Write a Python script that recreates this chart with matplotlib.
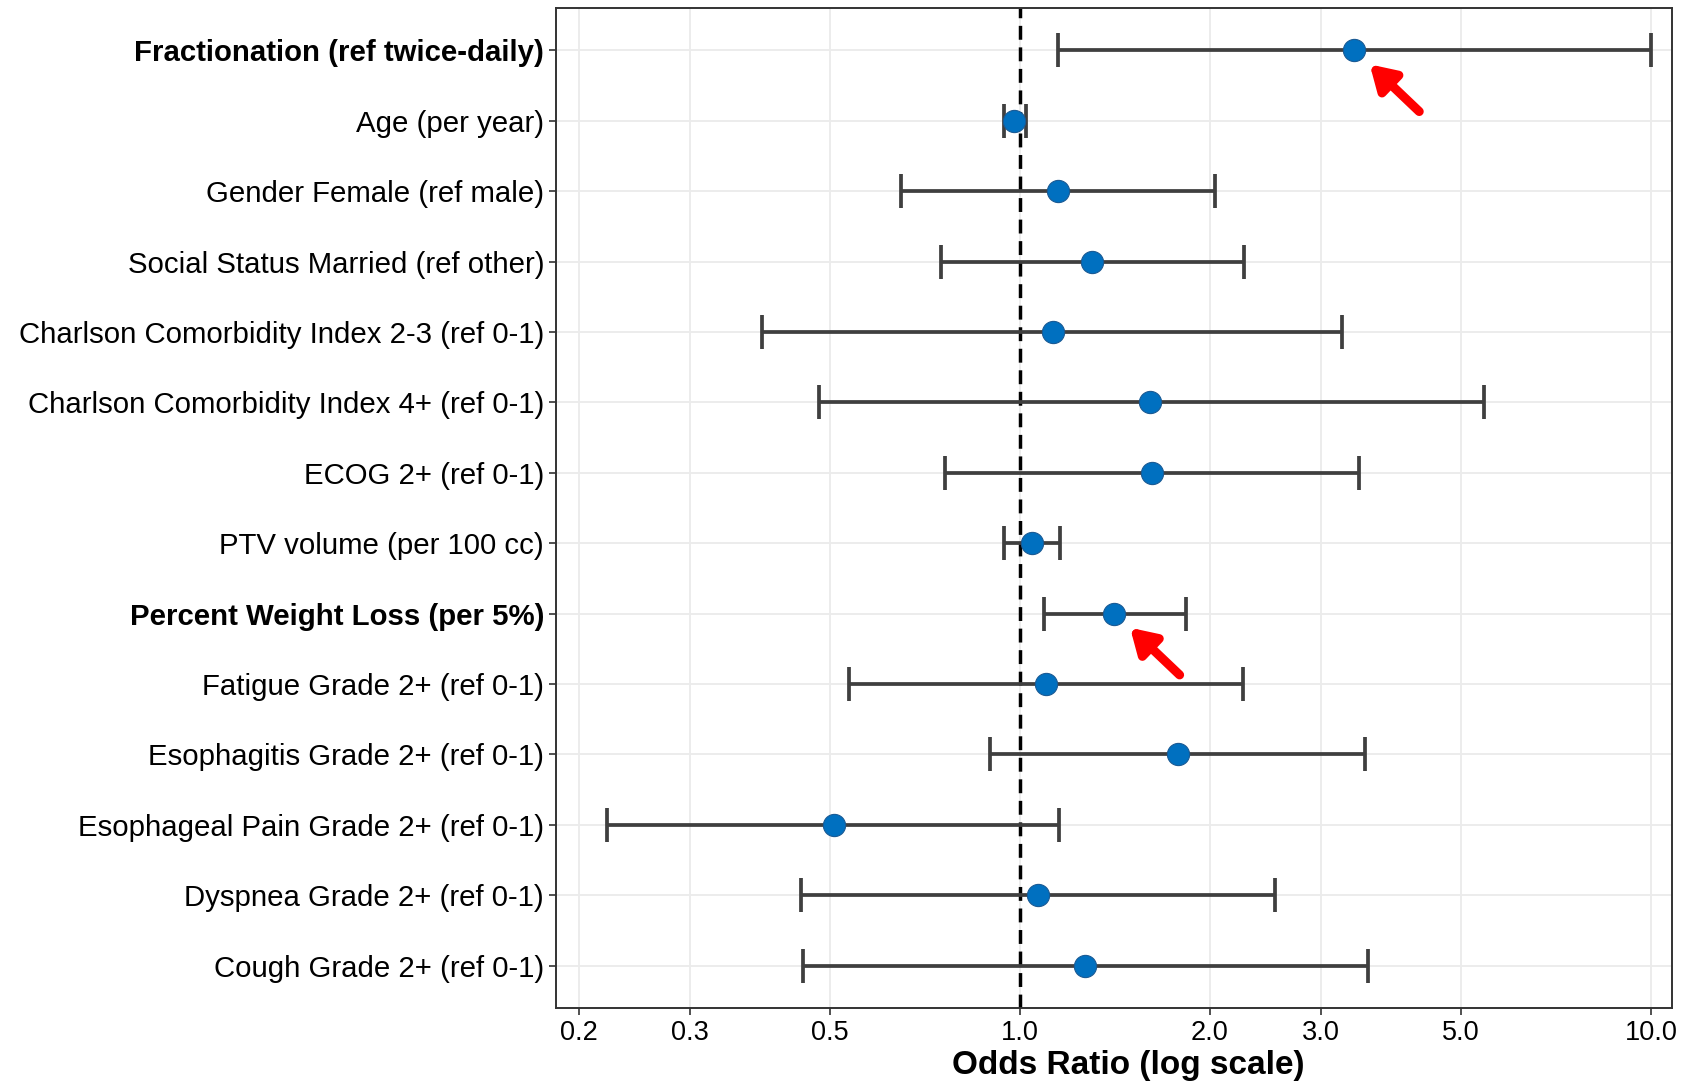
import numpy as np
import matplotlib.pyplot as plt

plt.rcParams['font.family'] = ['Liberation Sans', 'DejaVu Sans']

# odds ratios with 95% CI (top to bottom)
labels = [
    "Fractionation (ref twice-daily)",
    "Age (per year)",
    "Gender Female (ref male)",
    "Social Status Married (ref other)",
    "Charlson Comorbidity Index 2-3 (ref 0-1)",
    "Charlson Comorbidity Index 4+ (ref 0-1)",
    "ECOG 2+ (ref 0-1)",
    "PTV volume (per 100 cc)",
    "Percent Weight Loss (per 5%)",
    "Fatigue Grade 2+ (ref 0-1)",
    "Esophagitis Grade 2+ (ref 0-1)",
    "Esophageal Pain Grade 2+ (ref 0-1)",
    "Dyspnea Grade 2+ (ref 0-1)",
    "Cough Grade 2+ (ref 0-1)",
]
odds_ratio = [3.38, 0.98, 1.15, 1.30, 1.13, 1.61, 1.62, 1.045, 1.41, 1.10, 1.78, 0.507, 1.07, 1.27]
ci_low = [1.15, 0.943, 0.649, 0.751, 0.390, 0.480, 0.760, 0.943, 1.09, 0.536, 0.898, 0.222, 0.450, 0.454]
ci_high = [10.0, 1.024, 2.035, 2.265, 3.24, 5.43, 3.45, 1.158, 1.835, 2.256, 3.52, 1.154, 2.54, 3.56]
significant = ["Fractionation (ref twice-daily)", "Percent Weight Loss (per 5%)"]

x_ticks = [0.2, 0.3, 0.5, 1.0, 2.0, 3.0, 5.0, 10.0]
x_ticklabels = ["0.2", "0.3", "0.5", "1.0", "2.0", "3.0", "5.0", "10.0"]

fig = plt.figure(figsize=(17.08, 10.84), dpi=100)
ax = fig.add_axes([0.3255, 0.0701, 0.9790 - 0.3255, 0.9926 - 0.0701])

n = len(labels)
y = np.arange(n)[::-1]
or_arr = np.array(odds_ratio)
err = [or_arr - np.array(ci_low), np.array(ci_high) - or_arr]

ax.axvline(1.0, color="black", linestyle=(0, (4, 2.2)), linewidth=2.5, zorder=2)
ax.errorbar(odds_ratio, y, xerr=err, fmt="none", ecolor="#3f3f3f",
            elinewidth=2.7, capsize=12, capthick=2.7, zorder=3)
ax.plot(odds_ratio, y, "o", color="#0070C0", markersize=16,
        markeredgecolor="#1a5a94", markeredgewidth=0.8, zorder=4)

# red arrows pointing at the significant factors
for lab in significant:
    i = labels.index(lab)
    xp, yp = odds_ratio[i], y[i]
    ax.annotate("", xy=(xp * 1.06, yp - 0.2), xytext=(xp * 1.27, yp - 0.87),
                arrowprops=dict(arrowstyle="-|>,head_length=0.9,head_width=0.55",
                                mutation_scale=16, color="red", lw=6.5,
                                shrinkA=0, shrinkB=0),
                zorder=5)

ax.set_xscale("log")
ax.set_xlim(0.184, 10.8)
ax.set_ylim(-0.6, n - 0.4)
ax.set_xticks(x_ticks)
ax.set_xticklabels(x_ticklabels)
ax.xaxis.set_minor_locator(plt.NullLocator())
ax.set_yticks(y)
ax.set_yticklabels(labels)
for t in ax.get_yticklabels():
    if t.get_text() in significant:
        t.set_fontweight("bold")

ax.tick_params(axis="y", labelsize=21.2)
ax.tick_params(axis="x", labelsize=19.5)
ax.tick_params(axis="both", colors="#333333", labelcolor="black",
               length=5, width=1.2)
ax.grid(True, color="#ebebeb", linewidth=1.3, zorder=0)
ax.set_axisbelow(True)
for s in ax.spines.values():
    s.set_color("#333333")
    s.set_linewidth(1.4)

ax.set_xlabel("Odds Ratio (log scale)", fontsize=24, fontweight="bold", labelpad=2)
ax.xaxis.set_label_coords(0.513, -0.042)
ax.xaxis.label.set_va("top")

fig.savefig("out.png", dpi=100)
